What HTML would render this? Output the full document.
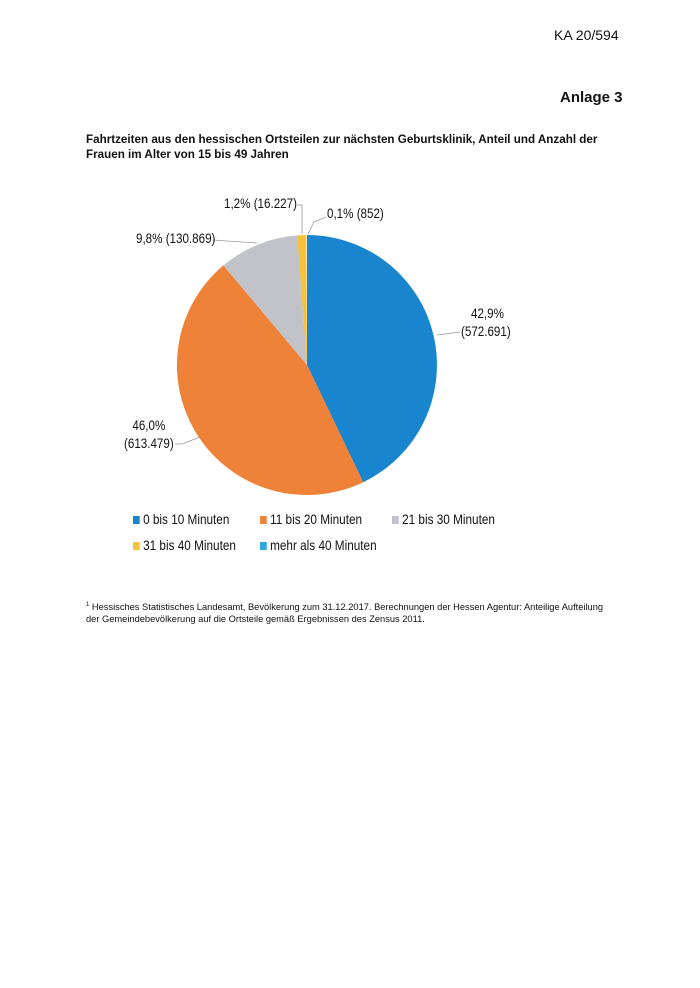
<!DOCTYPE html>
<html><head><meta charset="utf-8"><style>
body{margin:0;background:#fff;}
.p{position:relative;width:700px;height:988px;background:#fff;font-family:"Liberation Sans",sans-serif;color:#111;}
.a{position:absolute;white-space:nowrap;}
.n{transform:scaleX(0.86);transform-origin:0 0;}
</style></head><body><div class="p">
<div class="a" style="left:554px;top:27px;font-size:14px;">KA 20/594</div>
<div class="a" style="left:560px;top:89px;font-size:15px;font-weight:bold;">Anlage 3</div>
<div class="a" style="left:86px;top:132px;font-size:12px;font-weight:bold;line-height:15px;transform:scaleX(0.97);transform-origin:0 0;">Fahrtzeiten aus den hessischen Ortsteilen zur nächsten Geburtsklinik, Anteil und Anzahl der<br>Frauen im Alter von 15 bis 49 Jahren</div>
<svg class="a" style="left:0;top:0" width="700" height="988">
<path d="M307,365 L307,235 A130,130 0 0 1 363.2,482.2 Z" fill="#1a85cf"/>
<path d="M307,365 L363.2,482.2 A130,130 0 0 1 223.4,265.4 Z" fill="#ef8239"/>
<path d="M307,365 L223.4,265.4 A130,130 0 0 1 297.3,235.4 Z" fill="#c2c3c8"/>
<path d="M307,365 L297.3,235.4 A130,130 0 0 1 306.3,235 Z" fill="#f6c23b"/>
<g stroke="#999" fill="none" stroke-width="0.8">
<polyline points="213,240 257,243"/>
<polyline points="297,205 302,205 302,234"/>
<polyline points="326,217 314,222 308,234"/>
<polyline points="437,335 460,332"/>
<polyline points="175,444 182,444 200,437"/>
</g>
</svg>
<div class="a n" style="left:224px;top:196px;font-size:13.5px;font-weight:500;">1,2% (16.227)</div>
<div class="a n" style="left:327px;top:206px;font-size:13.5px;">0,1% (852)</div>
<div class="a n" style="left:136px;top:231px;font-size:13.5px;">9,8% (130.869)</div>
<div class="a n" style="left:461px;top:305px;font-size:13.5px;text-align:center;line-height:18px;">&nbsp;42,9%<br>(572.691)</div>
<div class="a n" style="left:124px;top:417px;font-size:13.5px;text-align:center;line-height:18px;">46,0%<br>(613.479)</div>
<div class="a n" style="left:133px;top:511px;font-size:14px;transform:scaleX(0.84);"><span style="display:inline-block;width:8px;height:8px;background:#1a85cf;margin-right:4px"></span>0 bis 10 Minuten</div>
<div class="a n" style="left:260px;top:511px;font-size:14px;transform:scaleX(0.84);"><span style="display:inline-block;width:8px;height:8px;background:#ef8239;margin-right:4px"></span>11 bis 20 Minuten</div>
<div class="a n" style="left:392px;top:511px;font-size:14px;transform:scaleX(0.84);"><span style="display:inline-block;width:8px;height:8px;background:#c2c3c8;margin-right:4px"></span>21 bis 30 Minuten</div>
<div class="a n" style="left:133px;top:537px;font-size:14px;transform:scaleX(0.84);"><span style="display:inline-block;width:8px;height:8px;background:#f6c23b;margin-right:4px"></span>31 bis 40 Minuten</div>
<div class="a n" style="left:260px;top:537px;font-size:14px;transform:scaleX(0.84);"><span style="display:inline-block;width:8px;height:8px;background:#2ca7e0;margin-right:4px"></span>mehr als 40 Minuten</div>
<div class="a" style="left:86px;top:599px;font-size:9.3px;line-height:12px;"><sup style="font-size:6px">1</sup> Hessisches Statistisches Landesamt, Bevölkerung zum 31.12.2017. Berechnungen der Hessen Agentur: Anteilige Aufteilung<br>der Gemeindebevölkerung auf die Ortsteile gemäß Ergebnissen des Zensus 2011.</div>
</div></body></html>
